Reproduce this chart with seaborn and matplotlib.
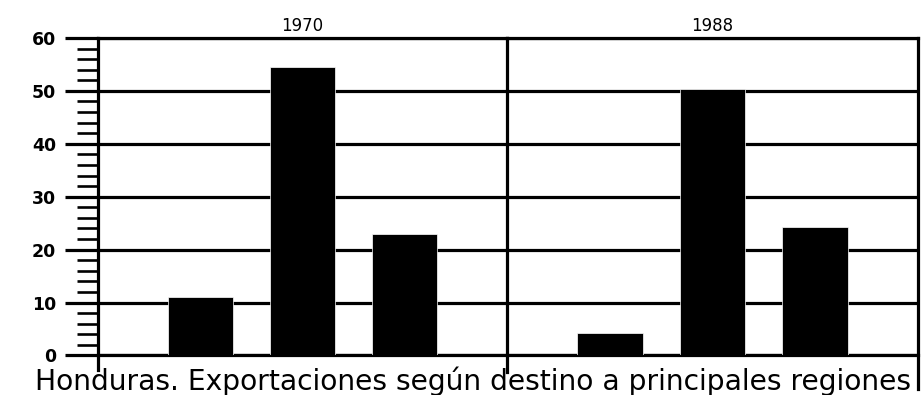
import matplotlib
matplotlib.use("Agg")
import matplotlib.pyplot as plt
from matplotlib.ticker import MultipleLocator
import seaborn as sns

# Export shares (%) by main destination region
regiones = ["Región 1", "Región 2", "Región 3"]
anios = ["1970", "1988"]
valores_1970 = [11.0, 54.6, 23.0]
valores_1988 = [4.3, 50.3, 24.2]
yticks = [0, 10, 20, 30, 40, 50, 60]
titulo = "Honduras. Exportaciones según destino a principales regiones"

sns.set_theme(style="white")
plt.rcParams["font.family"] = ["DejaVu Sans"]
plt.rcParams["text.color"] = "black"
plt.rcParams["axes.labelcolor"] = "black"
plt.rcParams["ytick.color"] = "black"
plt.rcParams["xtick.color"] = "black"

W, H = 923, 395
fig = plt.figure(figsize=(W / 100, H / 100), dpi=100)

bottom = 1 - 355.4 / H
top = 1 - 38 / H
x0, xm, x1 = 98 / W, 507 / W, 918 / W
ax1 = fig.add_axes([x0, bottom, xm - x0, top - bottom])
ax2 = fig.add_axes([xm, bottom, x1 - xm, top - bottom], sharey=ax1)

lw = 2.3
for ax, anio, vals in [(ax1, anios[0], valores_1970), (ax2, anios[1], valores_1988)]:
    sns.barplot(x=regiones, y=vals, color="black", width=0.64, saturation=1,
                edgecolor="white", linewidth=0.5, ax=ax, zorder=3)
    ax.set_xlim(-1, 3)
    ax.set_ylim(0, 60)
    ax.set_xticks([])
    ax.set_xlabel("")
    ax.set_ylabel("")
    ax.set_yticks(yticks)
    ax.grid(axis="y", color="black", linewidth=lw, zorder=1)
    ax.grid(axis="x", visible=False)
    ax.set_axisbelow(True)
    for s in ax.spines.values():
        s.set_color("black")
        s.set_linewidth(lw)
    ax.set_title(anio, fontsize=12, pad=5, color="black")

# left panel: wide major ticks acting as gridline extensions, minor ticks every 2 units
ax1.yaxis.set_minor_locator(MultipleLocator(2))
ax1.tick_params(axis="y", which="major", direction="out", length=24, width=lw,
                color="black", left=True, pad=6, labelsize=12.5, labelcolor="black")
ax1.tick_params(axis="y", which="minor", direction="out", length=15, width=1.9,
                color="black", left=True)
for lab in ax1.get_yticklabels():
    lab.set_fontweight("bold")
ax1.spines["right"].set_visible(False)
ax1.spines["left"].set_bounds(-2.8, 60)

ax2.tick_params(axis="y", which="both", left=False, labelleft=False)
ax2.spines["left"].set_bounds(-3.2, 60)
ax2.spines["right"].set_bounds(-6.3, 60)

# bottom caption, scaled to span the chart width
t = fig.text(473 / W, 1 - 381 / H, titulo, ha="center", va="center", fontsize=20,
             color="black")
fig.canvas.draw()
w = t.get_window_extent().width
t.set_fontsize(20 * 877 / w)

fig.savefig("out.png", dpi=100)
